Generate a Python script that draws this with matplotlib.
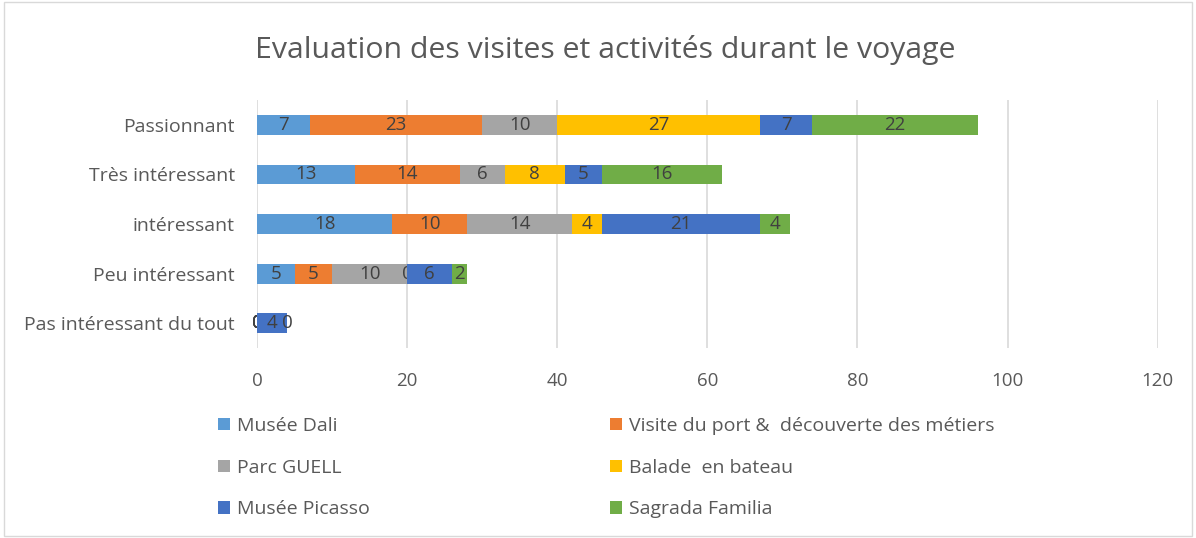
import matplotlib
matplotlib.use("Agg")
import matplotlib.pyplot as plt
import numpy as np

categories = ["Passionnant", "Très intéressant", "intéressant", "Peu intéressant", "Pas intéressant du tout"]
series_names = ["Musée Dali", "Visite du port &  découverte des métiers", "Parc GUELL",
                "Balade  en bateau", "Musée Picasso", "Sagrada Familia"]
musee_dali = [7, 13, 18, 5, 0]
visite_port = [23, 14, 10, 5, 0]
parc_guell = [10, 6, 14, 10, 0]
balade_bateau = [27, 8, 4, 0, 0]
musee_picasso = [7, 5, 21, 6, 4]
sagrada_familia = [22, 16, 4, 2, 0]
series_values = [musee_dali, visite_port, parc_guell, balade_bateau, musee_picasso, sagrada_familia]
colors = ["#5B9BD5", "#ED7D31", "#A5A5A5", "#FFC000", "#4472C4", "#70AD47"]
xticks = [0, 20, 40, 60, 80, 100, 120]

plt.rcParams['font.family'] = ['Open Sans', 'DejaVu Sans']
fig = plt.figure(figsize=(11.96, 5.38), dpi=100)
ax = fig.add_axes([0.2149, 0.353, 0.968 - 0.2149, 0.814 - 0.353])

y = np.arange(len(categories))
left = np.zeros(len(categories))
handles = []
for name, vals, c in zip(series_names, series_values, colors):
    v = np.array(vals, dtype=float)
    bars = ax.barh(y, v, left=left, height=0.4, color=c, label=name, zorder=3)
    ax.bar_label(bars, labels=[str(int(a)) for a in v], label_type='center',
                 color="#404040", fontsize=13.5)
    left += v
    handles.append(bars)

ax.set_ylim(len(categories) - 0.5, -0.5)
ax.set_xlim(0, 120)
ax.set_xticks(xticks)
ax.tick_params(axis='x', colors="#595959", labelsize=13.5, length=0, pad=17)
ax.tick_params(axis='y', colors="#595959", labelsize=14, length=0, pad=16)
ax.set_yticks(y)
ax.set_yticklabels(categories)
ax.grid(axis='x', color="#D9D9D9", linewidth=1.2, zorder=0)
for s in ax.spines.values():
    s.set_visible(False)

fig.text(0.5 * (253 + 958) / 1196, 1 - 50 / 538, "Evaluation des visites et activités durant le voyage",
         ha='center', va='center', fontsize=21.8, color="#595959")

leg_kw = dict(loc='upper left', frameon=False, fontsize=14, labelcolor="#595959",
              handlelength=0.6, handleheight=0.6, handletextpad=0.4, labelspacing=1.22,
              borderpad=0, borderaxespad=0)
leg1 = fig.legend(handles=[handles[i] for i in (0, 2, 4)],
                  labels=[series_names[i] for i in (0, 2, 4)],
                  bbox_to_anchor=(218 / 1196, 1 - 417 / 538), **leg_kw)
leg2 = fig.legend(handles=[handles[i] for i in (1, 3, 5)],
                  labels=[series_names[i] for i in (1, 3, 5)],
                  bbox_to_anchor=(610 / 1196, 1 - 417 / 538), **leg_kw)

fig.patches.append(plt.Rectangle((0.003, 0.003), 0.994, 0.994, transform=fig.transFigure,
                                 fill=False, edgecolor="#D9D9D9", linewidth=1))
fig.savefig("out.png", dpi=100)
